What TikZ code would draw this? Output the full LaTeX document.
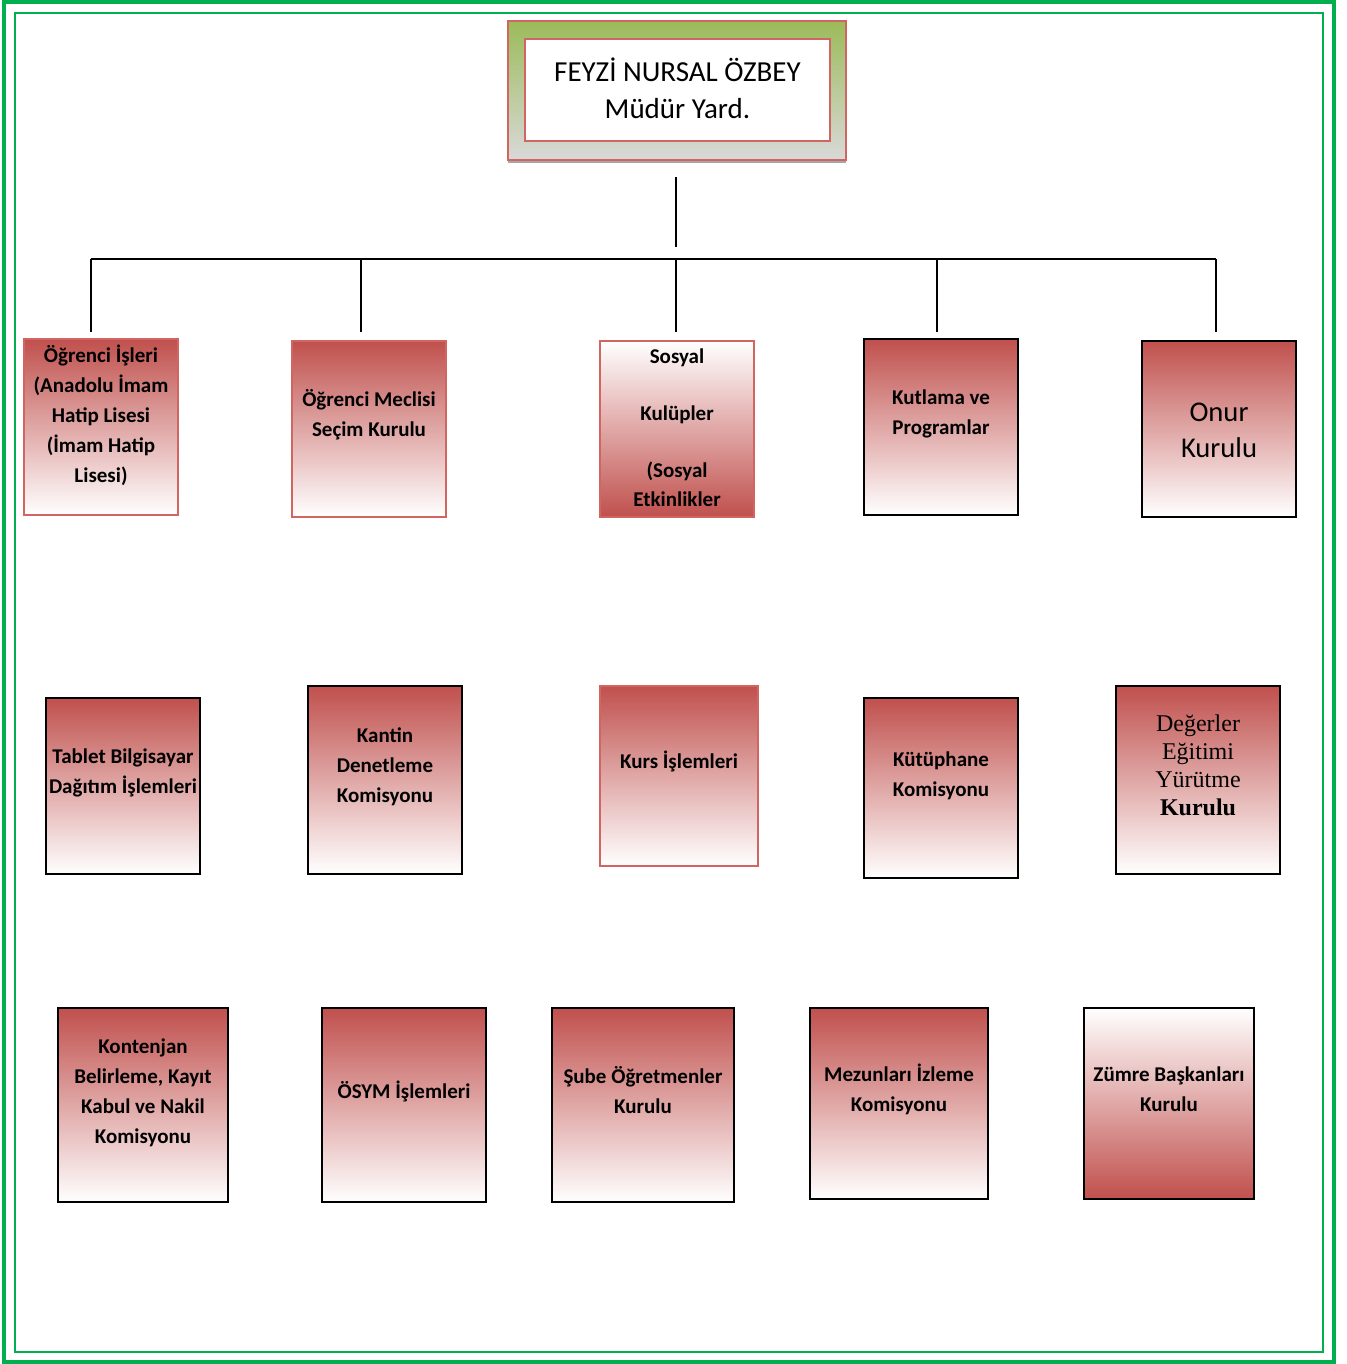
\documentclass[tikz,border=0pt]{standalone}
\usepackage{fontspec}
\setmainfont{Carlito}
\newfontfamily\serifface{Liberation Serif}
\usetikzlibrary{shadows}
\definecolor{OrgRed}{HTML}{C0504D}
\definecolor{OrgRim}{HTML}{D06562}
\definecolor{OrgGreen}{HTML}{9BBB59}
\definecolor{OrgGray}{HTML}{D9D9D9}
\definecolor{FrameGreen}{HTML}{00B050}

\begin{document}
\begin{tikzpicture}[x=0.5pt, y=-0.5pt,
    conn/.style={line width=1pt, black},
    unitbox/.style={rectangle, inner sep=0pt, minimum width=77pt, minimum height=88pt},
    redrim/.style={unitbox, draw=OrgRim, line width=1pt, top color=OrgRed, bottom color=white},
    blackrim/.style={unitbox, draw=black, line width=1.1pt, top color=OrgRed, bottom color=white},
    boxtext/.style={align=center, inner sep=0pt, font=\fontsize{10.5}{15}\selectfont\bfseries}]
    \useasboundingbox (0,0) rectangle (1347,1364);
    % page frame
    \draw[FrameGreen, line width=2pt] (4,2) rectangle (1334,1362);
    \draw[FrameGreen, line width=1pt] (15,13) rectangle (1323,1352);

    % head
    \node[rectangle, inner sep=0pt, minimum width=169pt, minimum height=69.5pt,
        top color=OrgGreen, bottom color=OrgGray, draw=OrgRim, line width=0.8pt,
        drop shadow={shadow xshift=0pt, shadow yshift=-1.5pt, fill=gray!70, opacity=1}]
        (head) at (677,90.5) {};
    \node[rectangle, inner sep=0pt, minimum width=152.5pt, minimum height=51pt,
        fill=white, draw=OrgRim, line width=0.8pt] (headin) at (677.5,90) {};
    \node[align=center, inner sep=0pt, font=\fontsize{14.5}{18.5}\selectfont]
        at (677.5,88) {FEYZİ NURSAL ÖZBEY\\Müdür Yard.};

    % connectors
    \coordinate (hub) at (676,247);
    \coordinate (busL) at (91,259);
    \coordinate (busR) at (1216,259);
    \coordinate (drop) at (0,332);
    \draw[conn] ([yshift=-8pt]head.south -| hub) -- (hub);
    \draw[conn] (busL) -- (busR);
    \foreach \x [count=\i] in {91,361,676,937,1216} {
        \coordinate (d\i) at (\x,259);
        \draw[conn] (d\i) -- (d\i |- drop);
    }

    % row 1
    \node[redrim] (ogr) at (101,427) {};
    \node[boxtext] at (101,415) {Öğrenci İşleri\\(Anadolu İmam\\Hatip Lisesi\\(İmam Hatip\\Lisesi)};
    \node[redrim] (meclis) at (369,429) {};
    \node[boxtext] at (369,415) {Öğrenci Meclisi\\Seçim Kurulu};
    \node[redrim, top color=white, bottom color=OrgRed] (sosyal) at (677,429) {};
    \node[boxtext, font=\fontsize{10.5}{14.25}\selectfont\bfseries] at (677,427.5)
        {Sosyal\\[14.25pt]Kulüpler\\[14.25pt](Sosyal\\Etkinlikler};
    \node[blackrim] (kutlama) at (941,427) {};
    \node[boxtext] at (941,414) {Kutlama ve\\Programlar};
    \node[blackrim] (onur) at (1219,429) {};
    \node[boxtext, font=\fontsize{14.3}{18}\selectfont] at (1219,430) {Onur\\Kurulu};

    % row 2
    \node[blackrim] (tablet) at (123,786) {};
    \node[boxtext] at (123,773) {Tablet Bilgisayar\\Dağıtım İşlemleri};
    \node[blackrim, minimum height=94pt] (kantin) at (385,780) {};
    \node[boxtext] at (385,767) {Kantin\\Denetleme\\Komisyonu};
    \node[redrim, minimum width=79pt, minimum height=90pt] (kurs) at (679,776) {};
    \node[boxtext] at (679,761) {Kurs İşlemleri};
    \node[blackrim, minimum height=90pt] (kutuphane) at (941,788) {};
    \node[boxtext] at (941,776) {Kütüphane\\Komisyonu};
    \node[blackrim, minimum width=82pt, minimum height=94pt] (degerler) at (1198,780) {};
    \node[boxtext, font=\fontsize{12}{14}\serifface] at (1198,765)
        {Değerler\\Eğitimi\\Yürütme\\\textbf{Kurulu}};

    % row 3
    \node[blackrim, minimum width=85pt, minimum height=97pt] (kontenjan) at (143,1105) {};
    \node[boxtext] at (143,1092.5) {Kontenjan\\Belirleme, Kayıt\\Kabul ve Nakil\\Komisyonu};
    \node[blackrim, minimum width=82pt, minimum height=97pt] (osym) at (404,1105) {};
    \node[boxtext] at (404,1091) {ÖSYM İşlemleri};
    \node[blackrim, minimum width=91pt, minimum height=97pt] (sube) at (643,1105) {};
    \node[boxtext] at (643,1090) {Şube Öğretmenler\\Kurulu};
    \node[blackrim, minimum width=89pt, minimum height=95.5pt] (mezun) at (899,1103.5) {};
    \node[boxtext] at (899,1089) {Mezunları İzleme\\Komisyonu};
    \node[blackrim, minimum width=85pt, minimum height=95.5pt, top color=white, bottom color=OrgRed]
        (zumre) at (1169,1103.5) {};
    \node[boxtext] at (1169,1089) {Zümre Başkanları\\Kurulu};
\end{tikzpicture}
\end{document}
